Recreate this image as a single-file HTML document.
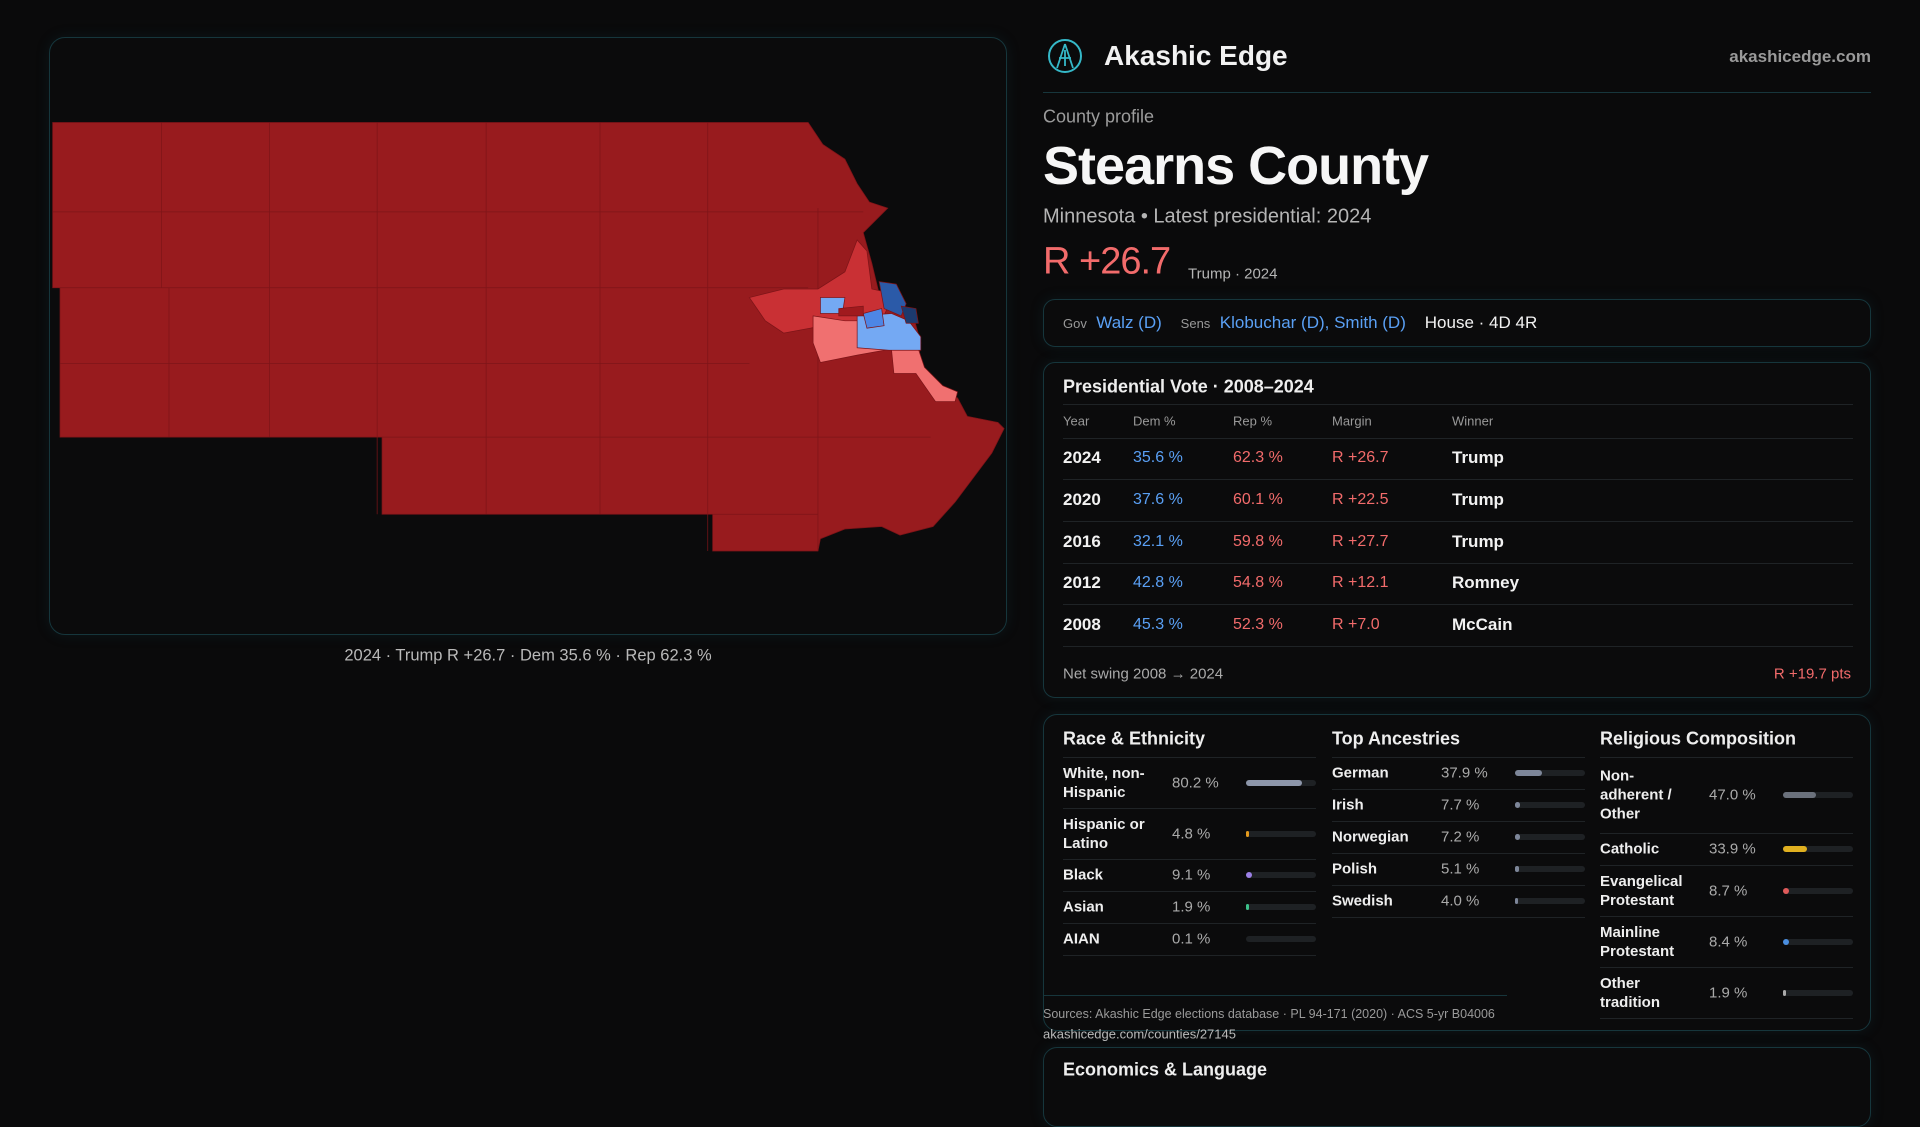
<!DOCTYPE html>
<html><head><meta charset="utf-8">
<style>
*{box-sizing:border-box;margin:0;padding:0}
body{width:1920px;height:1080px;background:#0a0a0b;font-family:"Liberation Sans",sans-serif;color:#eee;position:relative;overflow:hidden}
.abs{position:absolute;white-space:nowrap}
.panel{position:absolute;border:1px solid #16363c;border-radius:16px;background:#0b0b0c;box-shadow:0 0 14px rgba(20,80,90,.18)}
.t{position:absolute;white-space:nowrap;transform:translateY(-50%)}
.sep{position:absolute;height:1px;background:#1f2326}
.bar{position:absolute;height:6px;border-radius:3px;background:#1e2124;transform:translateY(-50%)}
.bar i{position:absolute;left:0;top:0;height:6px;border-radius:3px;min-width:3px}
</style></head><body>
<div class="panel" style="left:49px;top:37px;width:958px;height:598px;background:#0b0b0c"></div>
<svg style="position:absolute;left:0;top:0" width="1920" height="1080" viewBox="0 0 1568 882">
<g stroke="#7d1418" stroke-width="0.6">
<polygon fill="#981b1e" points="43,100 660,100 672,118 690,130 700,150 710,165 725,170 705,190 712,215 718,240 745,255 752,280 750,295 770,320 782,325 790,340 815,345 820,350 810,370 795,390 780,410 762,430 735,437 720,430 690,432 670,440 668,450 582,450 582,420 312,420 312,357 49,357 49,235 43,235"/>
<path fill="none" d="M132,100V235M220,100V357M308,100V420M397,100V420M490,100V420M578,100V450M668,170V450M138,235V357M43,173H705M49,235H660M49,297H612M312,357H760M582,420H668"/>
<polygon fill="#c93034" points="612,243 640,236 668,236 690,222 700,196 708,205 712,236 730,240 720,262 690,262 662,268 640,272 625,262"/>
<polygon fill="#f07070" points="664,258 690,262 720,262 728,285 700,290 670,296 664,280"/>
<polygon fill="#f07070" points="728,285 750,285 755,300 770,315 782,320 780,328 764,328 748,305 730,305"/>
<polygon fill="#74a9f3" points="670,243 690,243 688,256 670,256"/>
<polygon fill="#74a9f3" points="700,258 728,256 742,262 752,275 752,286 726,286 700,284"/>
<polygon fill="#4d86e6" points="705,256 720,252 722,266 708,268"/>
<polygon fill="#2b5aa8" points="718,230 732,232 740,248 736,258 722,252"/>
<polygon fill="#1c3a6e" points="736,250 748,252 750,264 740,264"/>
<polygon fill="#a01a1e" points="685,252 705,250 705,258 685,258"/>
</g>
</svg>
<div class="t" style="left:528px;top:656px;transform:translate(-50%,-50%);font-size:16.5px;color:#b9b9b9">2024 · Trump R +26.7 · Dem 35.6 % · Rep 62.3 %</div>

<svg class="abs" style="left:1047px;top:38px" width="36" height="36" viewBox="0 0 36 36"><circle cx="18" cy="18" r="16" fill="none" stroke="#35b8c8" stroke-width="2"/><path d="M18 6L10 30M18 6L26 30M12 20H24M18 12V28" stroke="#35b8c8" stroke-width="1.8" fill="none"/></svg>
<div class="t" style="left:1104px;top:56px;font-size:28px;font-weight:bold;color:#f2f2f2">Akashic Edge</div>
<div class="t" style="right:49px;top:57px;font-size:17px;font-weight:bold;color:#9a9a9a">akashicedge.com</div>
<div class="abs" style="left:1043px;top:92px;width:828px;height:1px;background:#17363c"></div>
<div class="t" style="left:1043px;top:117px;font-size:18px;color:#9c9c9c">County profile</div>
<div class="t" style="left:1043px;top:166px;font-size:54px;font-weight:bold;color:#f6f6f6;letter-spacing:-1px">Stearns County</div>
<div class="t" style="left:1043px;top:217px;font-size:20px;color:#b5b5b5">Minnesota • Latest presidential: 2024</div>
<div class="t" style="left:1043px;top:262px;font-size:38px;color:#f26b6b;letter-spacing:-1px">R +26.7</div>
<div class="t" style="left:1188px;top:274px;font-size:15px;color:#b5b5b5">Trump · 2024</div>

<div class="panel" style="left:1043px;top:299px;width:828px;height:48px;border-radius:12px"></div>
<div class="t" style="left:1063px;top:323px;font-size:17px"><span style="font-size:13px;color:#999">Gov</span>&nbsp; <span style="color:#5aa0f5">Walz (D)</span>&nbsp;&nbsp;&nbsp; <span style="font-size:13px;color:#999">Sens</span>&nbsp; <span style="color:#5aa0f5">Klobuchar (D), Smith (D)</span>&nbsp;&nbsp;&nbsp; <span style="color:#f2f2f2">House · 4D 4R</span></div>

<div class="panel" style="left:1043px;top:362px;width:828px;height:336px;border-radius:12px"></div>
<div class="t" style="left:1063px;top:387px;font-size:18px;font-weight:bold;color:#eee">Presidential Vote · 2008–2024</div>
<div class="sep" style="left:1063px;top:404px;width:790px"></div>
<div id="ptable"></div>
<div class="t" style="left:1063px;top:674px;font-size:15px;color:#aaa">Net swing 2008 → 2024</div>
<div class="t" style="right:69px;top:674px;font-size:15px;color:#f26b6b">R +19.7 pts</div>

<div class="panel" style="left:1043px;top:714px;width:828px;height:317px;border-radius:14px"></div>
<div id="demo"></div>
<div class="abs" style="left:1043px;top:995px;width:464px;height:1px;background:#17363c"></div>
<div class="t" style="left:1043px;top:1014px;font-size:12.5px;color:#9a9a9a">Sources: Akashic Edge elections database · PL 94-171 (2020) · ACS 5-yr B04006</div>
<div class="t" style="left:1043px;top:1034px;font-size:13px;color:#bbb">akashicedge.com/counties/27145</div>
<div class="panel" style="left:1043px;top:1047px;width:828px;height:80px;border-radius:14px"></div>
<div class="t" style="left:1063px;top:1070px;font-size:18px;font-weight:bold;color:#eee">Economics &amp; Language</div>

<script>
const years=["2024","2020","2016","2012","2008"];
const demPct=[35.6,37.6,32.1,42.8,45.3];
const repPct=[62.3,60.1,59.8,54.8,52.3];
const margins=[26.7,22.5,27.7,12.1,7.0];
const winners=["Trump","Trump","Trump","Romney","McCain"];

const raceLabels=["White, non-<br>Hispanic","Hispanic or<br>Latino","Black","Asian","AIAN"];
const raceValues=[80.2,4.8,9.1,1.9,0.1];
const ancLabels=["German","Irish","Norwegian","Polish","Swedish"];
const ancValues=[37.9,7.7,7.2,5.1,4.0];
const relLabels=["Non-<br>adherent /<br>Other","Catholic","Evangelical<br>Protestant","Mainline<br>Protestant","Other<br>tradition"];
const relValues=[47.0,33.9,8.7,8.4,1.9];

function mk(parent,cls,style,html){const d=document.createElement('div');d.className=cls;d.style.cssText=style;if(html!==undefined)d.innerHTML=html;parent.appendChild(d);return d;}
const pt=document.getElementById('ptable');
const cols=[1063,1133,1233,1332,1452];
const hdr=["Year","Dem %","Rep %","Margin","Winner"];
hdr.forEach((h,i)=>{const e=mk(pt,'t',`left:${cols[i]}px;top:421px;font-size:13px;color:#999`,h);

});
mk(pt,'sep','left:1063px;top:438px;width:790px');
years.forEach((y,i)=>{
 const cy=458+i*41.8;
 const m=margins[i];
 const cells=[[y,'#f2f2f2',17],[demPct[i].toFixed(1)+' %','#5aa0f5',16],[repPct[i].toFixed(1)+' %','#f26b6b',16],[(m>=0?'R +':'D +')+Math.abs(m).toFixed(1),'#f26b6b',16],[winners[i],'#f2f2f2',17]];
 cells.forEach((c,j)=>{const e=mk(pt,'t',`left:${cols[j]}px;top:${cy}px;font-size:${c[2]}px;color:${c[1]};${j==0||j==4?'font-weight:bold':''}`,c[0]);
 
 });
 mk(pt,'sep',`left:1063px;top:${cy+21}px;width:790px`);
});

const demo=document.getElementById('demo');
function section(title,x,labels,values,colors,valX,barX){
 const t=mk(demo,'t',`left:${x}px;top:739px;font-size:18px;font-weight:bold;color:#eee`,title);
 
 
 mk(demo,'sep',`left:${x}px;top:757px;width:${barX+70-x}px`);
 let y=757;
 labels.forEach((l,i)=>{
  const lines=l.split('<br>').length;
  const h=lines==1?32:(lines==2?51:76);
  const cy=y+h/2;
  const le=mk(demo,'t',`left:${x}px;top:${cy}px;font-size:15px;line-height:19px;font-weight:bold;color:#eee`,l);
  
  
  const ve=mk(demo,'t',`left:${valX}px;top:${cy}px;font-size:15px;color:#aaa`,values[i].toFixed(1)+' %');
  
  
  const b=mk(demo,'bar',`left:${barX}px;top:${cy}px;width:70px`);
  
  
  const f=document.createElement('i');
  f.style.width=(values[i]/100*70)+'px';f.style.background=colors[i];
  if(values[i]<1){f.style.minWidth='0';}
  
  
  b.appendChild(f);
  y+=h;
  mk(demo,'sep',`left:${x}px;top:${y}px;width:${barX+70-x}px`);
 });
}
section('Race & Ethnicity',1063,raceLabels,raceValues,['#8d96aa','#e39a1e','#9c80e6','#3cc08a','#666'],1172,1246);
section('Top Ancestries',1332,ancLabels,ancValues,['#7d8699','#7d8699','#7d8699','#7d8699','#7d8699'],1441,1515);
section('Religious Composition',1600,relLabels,relValues,['#6b717c','#e0b020','#e05a5a','#4a8ee0','#aaa'],1709,1783);
</script>
</body></html>
